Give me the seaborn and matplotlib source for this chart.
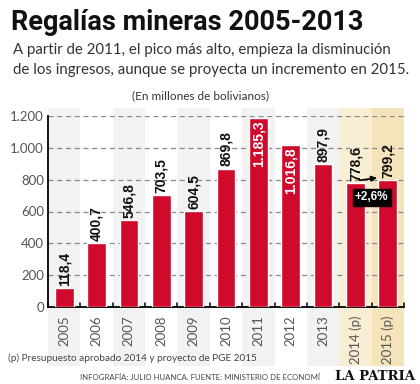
import numpy as np
import pandas as pd
import matplotlib.pyplot as plt
import seaborn as sns
from matplotlib.patches import FancyArrowPatch

# -----------------------------
# DATA
# -----------------------------
years = ["2005", "2006", "2007", "2008", "2009", "2010", "2011", "2012", "2013", "2014 (p)", "2015 (p)"]
regalias = [118.4, 400.7, 546.8, 703.5, 604.5, 869.8, 1185.3, 1016.8, 897.9, 778.6, 799.2]
labels = ["118,4", "400,7", "546,8", "703,5", "604,5", "869,8", "1.185,3", "1.016,8", "897,9", "778,6", "799,2"]
inside = [False, False, False, False, False, False, True, True, False, False, False]
y_ticks = [0, 200, 400, 600, 800, 1000, 1200]
y_tick_labels = ["0", "200", "400", "600", "800", "1.000", "1.200"]
variacion = "+2,6%"

RED = "#cf0a2c"
W, H = 420, 384

sns.set_theme(style="white")
plt.rcParams["font.family"] = ["Lato", "DejaVu Sans"]

fig = plt.figure(figsize=(W / 100, H / 100), dpi=100)
fig.patch.set_facecolor("white")


def fx(px):
    return px / W


def fy(py):
    return 1 - py / H


ax = fig.add_axes([fx(48), fy(307), fx(404) - fx(48), fy(116) - fy(307)])
ax.set_facecolor("none")

# background stripes
for i, yr in enumerate(years):
    if i == 9:
        c = "#f8eed3"
    elif i == 10:
        c = "#f5e4b9"
    elif i % 2 == 0:
        c = "#f2f2f2"
    else:
        c = "white"
    ax.axvspan(i - 0.5, i + 0.5, ymin=-0.31, ymax=1.04, color=c, zorder=0,
               clip_on=False, lw=0)

df = pd.DataFrame({"year": years, "valor": regalias})
sns.barplot(data=df, x="year", y="valor", color=RED, saturation=1,
            width=0.58, ax=ax, zorder=3)

ax.set_xlim(-0.5, len(years) - 0.5)
ax.set_ylim(0, 1200)
ax.set_yticks(y_ticks)
ax.set_yticklabels(y_tick_labels, color="#555555", fontsize=9.5)
for y in y_ticks[1:]:
    ax.axhline(y, color="#888888", lw=0.9, ls=(0, (4, 3)), zorder=1)

ax.set_xticks(range(len(years)))
ax.set_xticklabels(years, rotation=90, color="#555555", fontsize=9.5)
ax.tick_params(axis="x", length=0, pad=6)
ax.tick_params(axis="y", length=0, pad=3)
# small ticks between bars, pointing up
for i in range(len(years) + 1):
    ax.plot([i - 0.5, i - 0.5], [0, 28], color="black", lw=1.1,
            clip_on=False, zorder=4)
ax.set_xlabel("")
ax.set_ylabel("")
for s in ["top", "right"]:
    ax.spines[s].set_visible(False)
ax.spines["left"].set_color("black")
ax.spines["bottom"].set_color("black")
ax.spines["left"].set_linewidth(1.3)
ax.spines["bottom"].set_linewidth(1.3)

# value labels
for i, (v, lab, ins) in enumerate(zip(regalias, labels, inside)):
    if ins:
        ax.text(i, v - 12, lab, rotation=90, ha="center", va="top",
                color="white", fontsize=10, fontweight="bold",
                family="Liberation Sans", zorder=5)
    else:
        ax.text(i, v + 14, lab, rotation=90, ha="center", va="bottom",
                color="#111111", fontsize=10, fontweight="bold",
                family="Liberation Sans", zorder=5)

# arrow and variation box
arr = FancyArrowPatch((9.05, regalias[9] + 15), (9.75, regalias[10] + 15),
                      arrowstyle="-|>", mutation_scale=8, color="black",
                      lw=1.2, zorder=6)
ax.add_patch(arr)
ax.text(9.5, 690, variacion, ha="center", va="center", color="white",
        fontsize=8.5, fontweight="bold", family="Liberation Sans", zorder=7,
        bbox=dict(boxstyle="square,pad=0.2", fc="black", ec="black"))

# texts
fig.text(fx(11), fy(22), "Regalías mineras 2005-2013", fontsize=19.5,
         fontweight="bold", family="Roboto", va="center", color="#111111")
fig.text(fx(13), fy(50), "A partir de 2011, el pico más alto, empieza la disminución",
         fontsize=10.8, va="center", color="#333333")
fig.text(fx(13), fy(70), "de los ingresos, aunque se proyecta un incremento en 2015.",
         fontsize=10.8, va="center", color="#333333")
fig.text(fx(200), fy(96), "(En millones de bolivianos)", fontsize=8.5,
         ha="center", va="center", color="#333333")
fig.text(fx(8), fy(358), "(p) Presupuesto aprobado 2014 y proyecto de PGE 2015",
         fontsize=7.2, va="center", color="#444444")
fig.text(fx(80), fy(377), "INFOGRAFÍA: JULIO HUANCA. FUENTE: MINISTERIO DE ECONOMÍ",
         fontsize=5.6, va="center", color="#444444")
fig.text(fx(415), fy(376), "LA PATRIA", fontsize=9.5, fontweight="bold",
         family="DejaVu Serif", ha="right", va="center", color="#111111")

fig.savefig("out.png", dpi=100)
